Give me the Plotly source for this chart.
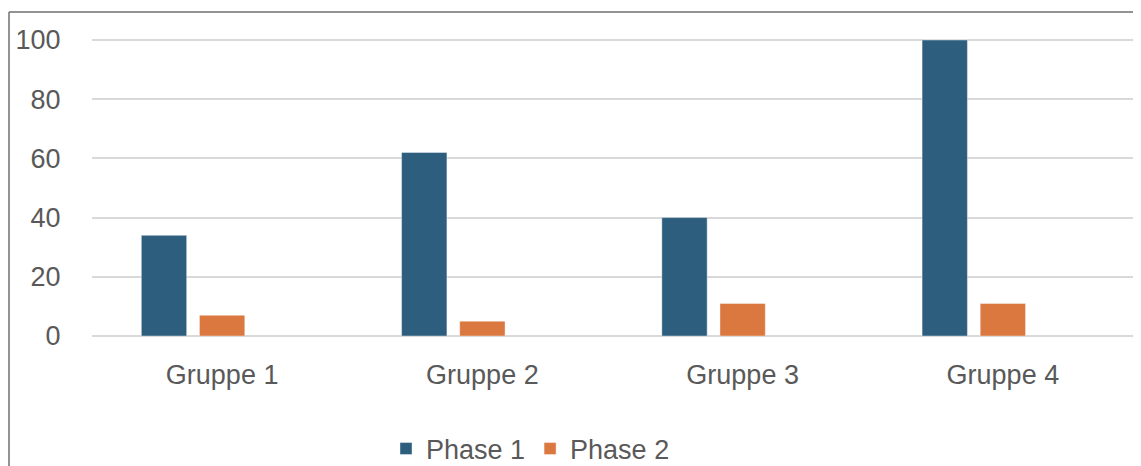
import plotly.graph_objects as go

categories = ["Gruppe 1", "Gruppe 2", "Gruppe 3", "Gruppe 4"]
phase1 = [34, 62, 40, 100]
phase2 = [7, 5, 11, 11]
phase3 = [None, None, None, None]  # empty third series (reserves slot)

# page body has an 8px margin, so figure coords = page coords - 8
OFF = 8
W, H = 1141 - OFF, 466 - OFF
L, R, T, B = 92 - OFF, 8, 30, 466 - 336
pw, ph = W - L - R, H - T - B

def px(x):  # page pixel -> paper x
    return (x - OFF - L) / pw

def py(y):  # page pixel -> paper y
    return (H - B - (y - OFF)) / ph

font = "Liberation Sans, Arial, sans-serif"
txt = "#595959"
FS = 27

fig = go.Figure()
fig.add_trace(go.Bar(x=categories, y=phase1, name="Phase 1", marker_color="#2E5E7E",
                     marker_line=dict(color="rgba(255,255,255,0.5)", width=0.8)))
fig.add_trace(go.Bar(x=categories, y=phase2, name="Phase 2", marker_color="#DB7840",
                     marker_line=dict(color="rgba(255,255,255,0.5)", width=0.8)))
fig.add_trace(go.Bar(x=categories, y=phase3, name="Phase 3", marker_color="#A5A5A5",
                     showlegend=False))

fig.update_layout(
    width=W, height=H,
    margin=dict(l=L, r=R, t=T, b=B, autoexpand=False),
    paper_bgcolor="white", plot_bgcolor="white",
    barmode="group", bargap=0.33, bargroupgap=0.22,
    font=dict(family=font, size=FS, color=txt),
    legend=dict(orientation="h", x=px(386), xanchor="left", y=py(449), yanchor="middle",
                font=dict(size=FS, color=txt), itemwidth=30, traceorder="normal",
                bgcolor="rgba(0,0,0,0)"),
    shapes=[
        dict(type="line", xref="paper", yref="paper", x0=px(9), x1=px(1150), y0=py(12), y1=py(12),
             line=dict(color="#6f6f6f", width=1.5)),
        dict(type="line", xref="paper", yref="paper", x0=px(9), x1=px(9), y0=py(12), y1=py(480),
             line=dict(color="#6f6f6f", width=1.5)),
    ],
)
fig.update_xaxes(showgrid=False, showline=False, ticks="outside", ticklen=15,
                 tickcolor="rgba(0,0,0,0)", tickfont=dict(size=FS, color=txt))
fig.update_yaxes(range=[0, ph / 2.96], tickvals=[0, 20, 40, 60, 80, 100],
                 showgrid=True, gridcolor="#d9d9d9", gridwidth=2,
                 zeroline=True, zerolinecolor="#d9d9d9", zerolinewidth=2,
                 showline=False, ticks="outside", ticklen=25, tickcolor="rgba(0,0,0,0)",
                 tickfont=dict(size=FS, color=txt))

fig.write_html("out.html")
